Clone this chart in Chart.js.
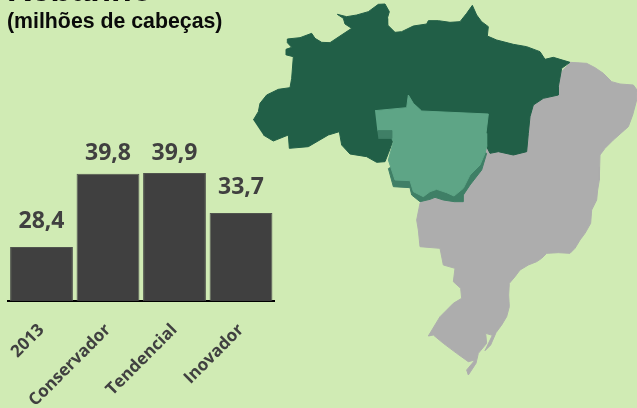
<!DOCTYPE html>
<html><head><meta charset="utf-8">
<script src="https://cdn.jsdelivr.net/npm/chart.js@4"></script>
<style>
html,body{margin:0;padding:0;width:637px;height:408px;overflow:hidden;background:#d0ebb4}
canvas{position:absolute;left:0;top:0}
.t{position:absolute;left:7px;font-family:"Liberation Sans",Arial,sans-serif;font-weight:bold;color:#0a0a0a;white-space:nowrap}
</style></head><body>
<canvas id="map" width="637" height="408"></canvas>
<canvas id="bars" width="637" height="408"></canvas>
<div class="t" style="top:-30px;font-size:34px">Rebanho</div>
<div class="t" style="top:9px;font-size:21.3px">(milhões de cabeças)</div>
<script>
const categories = ["2013","Conservador","Tendencial","Inovador"];
const values = [28.4,39.8,39.9,33.7];
const labelLifts = [19,14,13,19];
const brasilGray = [[960,187],[1010,190],[1035,203],[1060,220],[1085,245],[1110,252],[1150,255],[1161,270],[1160,300],[1148,345],[1135,380],[1090,420],[1065,445],[1050,465],[1049,500],[1048,540],[1043,570],[1040,600],[1025,630],[1022,670],[1005,700],[990,720],[975,745],[960,760],[925,758],[890,760],[875,775],[860,785],[835,795],[810,810],[795,830],[778,850],[776,885],[778,920],[770,950],[755,975],[738,998],[722,1035],[705,1052],[727,1006],[707,1000],[710,1030],[685,1060],[678,1090],[655,1125],[650,1110],[675,1080],[655,1085],[620,1060],[580,1030],[550,1005],[535,1008],[570,950],[610,910],[635,895],[632,865],[610,845],[615,805],[580,795],[570,745],[510,740],[505,690],[500,660],[510,610],[520,595],[700,400],[900,250]];
const norteGreen = [[10,360],[25,335],[30,310],[50,285],[85,268],[120,263],[125,235],[130,170],[110,165],[108,148],[125,142],[112,128],[112,117],[150,113],[185,100],[195,115],[215,127],[240,128],[270,108],[305,85],[285,72],[280,55],[262,43],[290,50],[320,45],[355,35],[385,13],[405,12],[418,35],[412,55],[413,75],[435,97],[455,95],[490,78],[530,72],[535,62],[565,62],[600,67],[630,65],[650,40],[667,16],[680,45],[695,65],[715,80],[712,108],[740,120],[790,133],[830,140],[870,155],[885,178],[910,172],[960,187],[935,205],[925,260],[925,285],[880,295],[850,315],[840,350],[835,400],[830,455],[790,465],[745,455],[720,460],[710,440],[560,440],[430,420],[415,460],[405,485],[380,487],[350,470],[300,462],[275,435],[268,395],[235,405],[175,440],[118,445],[115,405],[70,423],[40,405]];
const mtShade = [[382,392],[425,392],[425,415],[385,415]];
const mtShadow = [[415,505],[430,560],[480,563],[485,585],[510,605],[540,598],[555,592],[580,600],[613,605],[640,605],[640,585],[660,555],[695,510],[710,460],[560,400]];
const mtLight = [[375,332],[470,323],[475,285],[490,310],[515,333],[715,342],[708,400],[710,440],[705,460],[690,495],[660,525],[640,565],[612,588],[590,578],[560,568],[540,575],[520,590],[490,575],[480,542],[435,540],[425,510],[415,480],[430,425],[425,415],[425,392],[382,392]];
const pts = a => a.map(p => ({x:p[0],y:p[1]}));
const region = (arr,color) => ({data:pts(arr),showLine:true,fill:'shape',backgroundColor:color,borderColor:color,borderWidth:1,pointRadius:0,tension:0});
new Chart(document.getElementById('map'),{
  type:'scatter',
  data:{datasets:[region(mtShade,'#3f7f66'),region(mtLight,'#5ea586'),region(mtShadow,'#3f7f66'),region(norteGreen,'#215f47'),region(brasilGray,'#adadad')]},
  options:{responsive:false,animation:false,events:[],
    layout:{padding:0},
    plugins:{legend:{display:false},tooltip:{enabled:false}},
    scales:{x:{type:'linear',display:false,min:-750,max:1161},y:{type:'linear',display:false,min:0,max:1224,reverse:true}}}
});
const valueLabels = {id:'valueLabels',afterDatasetsDraw(c){
  const g=c.ctx, m=c.getDatasetMeta(0);
  g.save();g.font='bold 23px "Open Sans"';g.fillStyle='#404040';g.textAlign='center';g.textBaseline='alphabetic';
  m.data.forEach((b,i)=>g.fillText(values[i].toFixed(1).replace('.',','),b.x,b.y-labelLifts[i]));
  g.restore();
}};
new Chart(document.getElementById('bars'),{
  type:'bar',
  data:{labels:categories,datasets:[{data:values,backgroundColor:'#404040',borderColor:'#50544e',borderWidth:1,barPercentage:0.945,categoryPercentage:1}]},
  options:{responsive:false,animation:false,events:[],
    layout:{padding:{left:8.25,right:362.75,top:140.25,bottom:0}},
    plugins:{legend:{display:false},tooltip:{enabled:false}},
    scales:{
      y:{display:false,min:20,max:45},
      x:{grid:{display:false,drawTicks:false},border:{display:true,color:'#000',width:2},
        afterFit(s){s.height=107;s.paddingLeft=0;s.paddingRight=0;},
        ticks:{minRotation:45,maxRotation:45,padding:19,color:'#404040',font:{family:'"Open Sans"',size:17,weight:'bold'}}}
    }},
  plugins:[valueLabels]
});
</script></body></html>
